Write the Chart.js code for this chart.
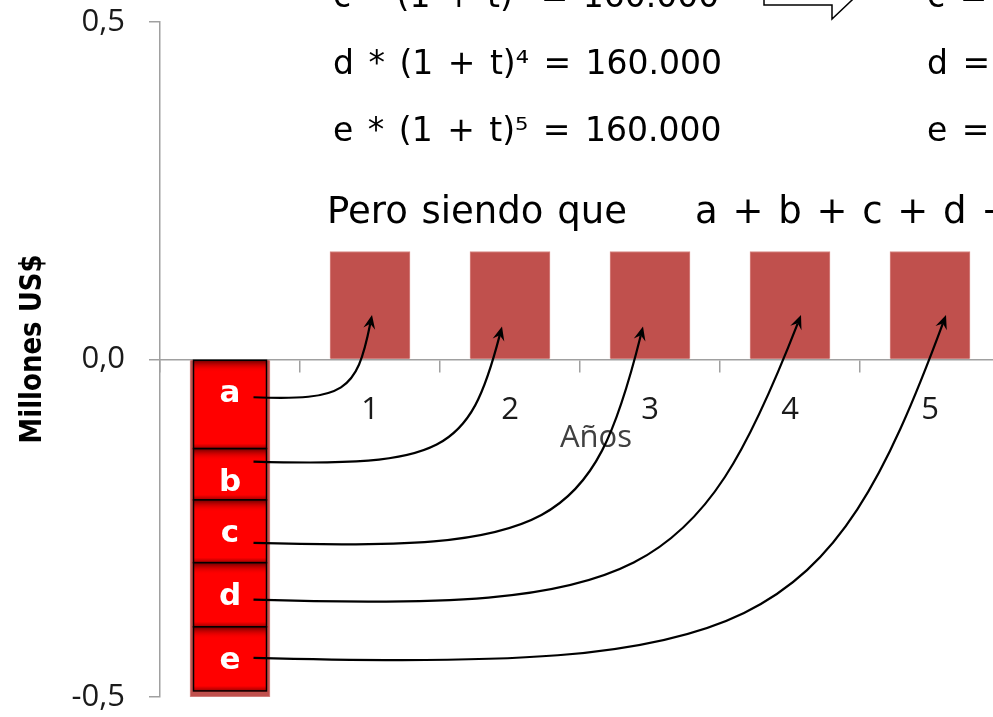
<!DOCTYPE html>
<html>
<head>
<meta charset="utf-8">
<script src="https://cdn.jsdelivr.net/npm/chart.js@4.4.1/dist/chart.umd.min.js"></script>
<style>
  html, body { margin: 0; padding: 0; background: #fff; overflow: hidden; }
  #wrap { position: relative; width: 1000px; height: 717px; }
</style>
</head>
<body>
<div id="wrap"><canvas id="vpChart" width="1000" height="717"></canvas></div>
<script>
// Years and cash flows (millions US$)
const years = ["0", "1", "2", "3", "4", "5"];
const flujos = [-0.5, 0.16, 0.16, 0.16, 0.16, 0.16];

// Present values of each payment, stacked under year 0
const vpLabels = ["a", "b", "c", "d", "e"];
const vpValues = [0.132, 0.076, 0.093, 0.095, 0.095];

// Axis ticks
const yTicks = [-0.5, 0, 0.5];

// Text at the top
const equations = ["c * (1 + t)³ = 160.000", "d * (1 + t)⁴ = 160.000", "e * (1 + t)⁵ = 160.000"];
const results = ["c =", "d =", "e ="];

// Arrow layout: start depth inside each box (px), landing point in the bar and arrival steepness
const startDrop = [37, 13, 43, 37, 31];
const tipShift = [2, -8, -7, 11, 16];
const tipValue = [0.066, 0.049, 0.049, 0.066, 0.066];
const tipSlope = [0.2, 0.26, 0.25, 0.39, 0.37];

const axisGray = "#a0a0a0";

function drawArrow(ctx, sx, sy, ex, ey, slope) {
  const h = sy - ey;
  // corner where the flat start meets the steep end
  const ky = sy + 0.04 * h;
  const kx = ex - slope * (ky - ey);
  const c1x = sx + 0.9 * (kx - sx), c1y = ky;
  const c2x = ex + 0.9 * (kx - ex), c2y = ey + 0.9 * (ky - ey);
  const ang = Math.atan2(ey - c2y, ex - c2x);
  const cos = Math.cos(ang), sin = Math.sin(ang);
  const nx = ex - 9 * cos, ny = ey - 9 * sin;

  ctx.beginPath();
  ctx.moveTo(sx, sy);
  ctx.bezierCurveTo(c1x, c1y, c2x, c2y, nx, ny);
  ctx.strokeStyle = "#000";
  ctx.lineWidth = 2.2;
  ctx.stroke();

  // arrow head
  const bx = ex - 14 * cos, by = ey - 14 * sin;
  ctx.beginPath();
  ctx.moveTo(ex, ey);
  ctx.lineTo(bx - 6 * sin, by + 6 * cos);
  ctx.lineTo(nx, ny);
  ctx.lineTo(bx + 6 * sin, by - 6 * cos);
  ctx.closePath();
  ctx.fillStyle = "#000";
  ctx.fill();
}

const overlay = {
  id: "overlay",
  afterDatasetsDraw(chart) {
    const ctx = chart.ctx;
    ctx.save();
    vpLabels.forEach((lab, i) => {
      const el = chart.getDatasetMeta(i).data[0];
      const { x, y, base, width } = el.getProps(["x", "y", "base", "width"], true);
      const top = Math.min(y, base), bottom = Math.max(y, base);
      const left = x - width / 2;

      let g = ctx.createLinearGradient(0, top, 0, top + 12);
      g.addColorStop(0, "rgba(105,0,0,1)");
      g.addColorStop(1, "rgba(255,0,0,0)");
      ctx.fillStyle = g;
      ctx.fillRect(left, top, width, 12);

      g = ctx.createLinearGradient(0, bottom - 5, 0, bottom);
      g.addColorStop(0, "rgba(150,0,0,0)");
      g.addColorStop(1, "rgba(150,0,0,0.9)");
      ctx.fillStyle = g;
      ctx.fillRect(left, bottom - 5, width, 5);

      ctx.strokeStyle = "#000";
      ctx.lineWidth = 1.5;
      ctx.strokeRect(left, top, width, bottom - top);

      ctx.fillStyle = "#fff";
      ctx.font = 'bold 31px "DejaVu Sans"';
      ctx.textAlign = "center";
      ctx.textBaseline = "alphabetic";
      ctx.fillText(lab, x, top + 42);
    });
    ctx.restore();
  },
  afterDraw(chart) {
    const ctx = chart.ctx;
    const yScale = chart.scales.y;
    ctx.save();

    // axis titles
    ctx.fillStyle = "#000";
    ctx.font = 'bold 31px "DejaVu Sans"';
    ctx.textAlign = "center";
    ctx.textBaseline = "alphabetic";
    ctx.save();
    ctx.translate(41, 349);
    ctx.rotate(-Math.PI / 2);
    ctx.scale(0.84, 1);
    ctx.fillText("Millones US$", 0, 0);
    ctx.restore();

    ctx.fillStyle = "#404040";
    ctx.font = '31px "Open Sans"';
    ctx.fillText("Años", 596, 447);

    // arrows from present values to payments
    const bars = chart.getDatasetMeta(vpLabels.length).data;
    vpLabels.forEach((lab, i) => {
      const el = chart.getDatasetMeta(i).data[0];
      const { x, y, base, width } = el.getProps(["x", "y", "base", "width"], true);
      const top = Math.min(y, base);
      const target = bars[i + 1];
      drawArrow(ctx, x + width / 2 - 13, top + startDrop[i],
        target.x + tipShift[i], yScale.getPixelForValue(tipValue[i]), tipSlope[i]);
    });

    // equations
    ctx.fillStyle = "#000";
    ctx.textAlign = "left";
    ctx.font = '33px "DejaVu Sans"';
    ctx.wordSpacing = "4px";
    equations.forEach((t, i) => {
      ctx.fillText(t, 333, 7 + i * 67);
      ctx.fillText(results[i], 927, 7 + i * 67);
    });

    // block arrow between the columns
    ctx.beginPath();
    ctx.moveTo(764, -20);
    ctx.lineTo(832, -20);
    ctx.lineTo(832, -34);
    ctx.lineTo(860, -7.5);
    ctx.lineTo(832, 19);
    ctx.lineTo(832, 5);
    ctx.lineTo(764, 5);
    ctx.closePath();
    ctx.fillStyle = "#fff";
    ctx.fill();
    ctx.strokeStyle = "#000";
    ctx.lineWidth = 1.5;
    ctx.stroke();

    ctx.fillStyle = "#000";
    ctx.font = '37px "DejaVu Sans"';
    ctx.wordSpacing = "2px";
    ctx.fillText("Pero siendo que", 327, 223);
    ctx.wordSpacing = "3px";
    ctx.fillText("a + b + c + d + e", 695, 223);
    ctx.restore();
  },
};

const datasets = vpLabels.map((lab, i) => ({
  label: lab,
  data: years.map((_, j) => (j === 0 ? -vpValues[i] : null)),
  backgroundColor: "#ff0000",
  borderWidth: 0,
  stack: "vp",
  grouped: false,
  barThickness: 73,
}));

datasets.push({
  label: "Flujos",
  data: flujos,
  backgroundColor: "#c0504d",
  borderColor: "#d88a88",
  borderWidth: 1,
  stack: "flujo",
  grouped: false,
  barThickness: 80,
});

new Chart(document.getElementById("vpChart"), {
  type: "bar",
  data: { labels: years, datasets },
  options: {
    responsive: false,
    devicePixelRatio: 1,
    animation: false,
    layout: { padding: { top: 22, bottom: 20, left: 0, right: 0 } },
    plugins: { legend: { display: false }, tooltip: { enabled: false } },
    scales: {
      x: {
        position: { y: 0 },
        afterFit: (s) => { s.height = 0; s.paddingLeft = 0; s.paddingRight = 0; },
        grid: { drawOnChartArea: false, offset: true, tickLength: 12, color: axisGray, lineWidth: 1.5 },
        border: { color: axisGray, width: 1.5 },
        ticks: { font: { family: "Open Sans", size: 31 }, color: "#1a1a1a", padding: 20 },
      },
      y: {
        stacked: true,
        min: -0.5,
        max: 0.5,
        afterFit: (s) => { s.width = 160; s.paddingTop = 0; s.paddingBottom = 0; },
        afterBuildTicks: (s) => { s.ticks = yTicks.map((v) => ({ value: v })); },
        grid: { drawOnChartArea: false, tickLength: 11, color: axisGray, lineWidth: 1.5 },
        border: { color: axisGray, width: 1.5 },
        ticks: {
          font: { family: "Open Sans", size: 31 },
          color: "#1a1a1a",
          padding: 24,
          callback: (v) => v.toFixed(1).replace(".", ","),
        },
      },
    },
  },
  plugins: [overlay],
});
</script>
</body>
</html>
